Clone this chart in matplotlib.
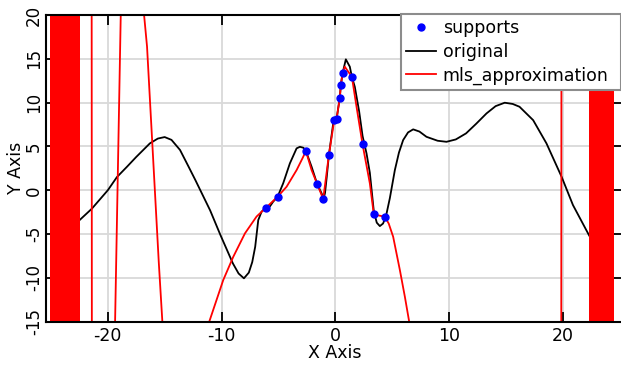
import matplotlib
matplotlib.use("Agg")
import matplotlib.pyplot as plt

# ---- data ----
original_x = [-22.6, -21.4, -20.0, -19.2, -18.3, -17.5, -16.3, -15.6, -15.0, -14.4,
              -13.65, -12.9, -12.3, -11.0, -10.1, -9.0, -8.5, -8.03, -7.6, -7.3,
              -7.04, -6.77, -6.48, -6.1, -5.75, -5.46, -5.07, -4.58, -3.99, -3.4,
              -3.11, -2.8, -2.58, -2.08, -1.59, -1.2, -1.03, -0.9, -0.75, -0.56,
              -0.18, -0.09, 0.11, 0.4, 0.49, 0.64, 0.93, 1.28, 1.46, 1.72,
              2.1, 2.4, 2.75, 3.04, 3.39, 3.65, 3.92, 4.2, 4.45, 4.8,
              5.24, 5.6, 5.97, 6.4, 6.85, 7.4, 8.02, 9.0, 9.78, 10.6,
              11.5, 12.4, 13.3, 14.1, 14.9, 15.6, 16.2, 17.4, 18.57, 19.9,
              20.9, 22.3, 22.6]
original_y = [-3.55, -2.1, 0.0, 1.5, 2.7, 3.8, 5.35, 5.9, 6.07, 5.75,
              4.6, 2.7, 1.16, -2.3, -5.1, -8.35, -9.5, -10.05, -9.4, -8.2,
              -6.45, -3.4, -2.45, -2.0, -1.85, -1.3, -0.74, 0.79, 3.07, 4.78,
              4.96, 4.85, 4.47, 2.68, 0.71, -0.35, -1.0, -0.3, 1.5, 4.02,
              7.63, 8.0, 8.09, 10.56, 12.0, 13.34, 14.94, 14.1, 12.95, 11.8,
              9.0, 6.2, 4.2, 2.0, -2.4, -3.7, -4.09, -3.8, -3.02, -0.9,
              2.3, 4.3, 5.73, 6.6, 6.95, 6.7, 6.1, 5.65, 5.53, 5.8,
              6.49, 7.6, 8.77, 9.6, 9.99, 9.85, 9.53, 8.0, 5.35, 1.54,
              -1.69, -5.1, -5.8]

support_x = [-6.1, -5.07, -2.58, -1.59, -1.06, -0.56, -0.09, 0.11,
             0.4, 0.49, 0.64, 1.46, 2.4, 3.39, 4.36]
support_y = [-2.0, -0.74, 4.47, 0.71, -1.0, 4.02, 8.0, 8.09,
             10.56, 12.0, 13.34, 12.95, 5.24, -2.75, -3.02]

mls_x = [-21.42, -21.40, -19.43, -18.79, -17.17, -16.55, -15.52, -14.97,
         -12.4, -11.08, -9.85, -8.97, -7.94, -6.92, -6.1, -5.07, -4.28, -3.4,
         -2.9, -2.58, -2.08, -1.59, -1.06, -0.56, -0.09, 0.11, 0.4, 0.49,
         0.64, 0.84, 1.05, 1.46, 1.87, 2.4, 3.04, 3.39, 3.9, 4.36,
         4.7, 5.09, 5.68, 6.12, 6.5, 7.17, 19.87, 19.89]
mls_y = [25, -20, -20, 25, 25, 16.4, -8.16, -20,
         -20, -15, -10.25, -7.6, -4.92, -3.0, -2.0, -0.74, 0.4, 2.3,
         3.6, 4.47, 2.3, 0.71, -1.0, 4.02, 8.0, 8.09, 10.56, 12.0,
         13.34, 14.1, 13.7, 12.95, 9.53, 5.24, 0.79, -2.75, -2.9, -3.02,
         -3.8, -5.3, -9.1, -12.15, -15, -20, -20, 25]

# x ranges where the approximation diverges (dense oscillation -> solid red)
mls_divergent_start = [-25.08, 22.3]
mls_divergent_end = [-22.45, 24.5]

x_ticks = [-20, -10, 0, 10, 20]
y_ticks = [-15, -10, -5, 0, 5, 10, 15, 20]
x_limits = (-25.46, 25.3)
y_limits = (-15, 20)

# ---- figure ----
plt.rcParams["font.family"] = ["DejaVu Sans"]
plt.rcParams["axes.unicode_minus"] = False
FS = 12.5
W, H = 621, 365
fig = plt.figure(figsize=(W / 100, H / 100), dpi=100)
ax = fig.add_axes([45.7 / W, (H - 321.7) / H, (623 - 45.7) / W, (321.7 - 15) / H])

ax.set_xlim(*x_limits)
ax.set_ylim(*y_limits)
ax.set_xticks(x_ticks)
ax.set_yticks(y_ticks)
ax.grid(True, color="#d9d9d9", linewidth=1.3, zorder=0)
ax.set_axisbelow(True)

ax.plot(original_x, original_y, color="black", linewidth=1.3, zorder=3, label="original")
ax.plot(mls_x, mls_y, color="red", linewidth=1.3, zorder=4, label="mls_approximation")
for s, e in zip(mls_divergent_start, mls_divergent_end):
    ax.axvspan(s, e, color="red", linewidth=0, zorder=5)
ax.plot(support_x, support_y, linestyle="none", marker="o", markersize=5,
        color="blue", zorder=6, label="supports")

for sp in ax.spines.values():
    sp.set_linewidth(1.5)
    sp.set_zorder(7)

ax.tick_params(axis="both", direction="in", length=7, width=1.3,
               top=True, right=True, labelsize=FS)
ax.tick_params(axis="x", pad=4)
ax.tick_params(axis="y", labelsize=12, pad=8.5)
for lab in ax.get_yticklabels():
    lab.set_rotation(90)
    lab.set_va("center")
    lab.set_ha("center")

ax.set_xlabel("X Axis", fontsize=FS, labelpad=-1)
ax.set_ylabel("Y Axis", fontsize=FS, labelpad=0)

handles, labels = ax.get_legend_handles_labels()
order = [labels.index("supports"), labels.index("original"), labels.index("mls_approximation")]
leg = ax.legend([handles[i] for i in order], [labels[i] for i in order],
                loc="upper left", mode="expand",
                bbox_to_anchor=(401 / W, (H - 14) / H - 0.2, 220 / W, 0.2),
                bbox_transform=fig.transFigure, borderaxespad=0,
                fontsize=FS, frameon=True, fancybox=False, shadow=False,
                edgecolor="#8c8c8c", framealpha=1, handlelength=1.7,
                handletextpad=0.4, labelspacing=0.32, borderpad=0.3,
                numpoints=1)
leg.get_frame().set_linewidth(1.5)
leg.set_zorder(10)

fig.savefig("out.png", dpi=100)
